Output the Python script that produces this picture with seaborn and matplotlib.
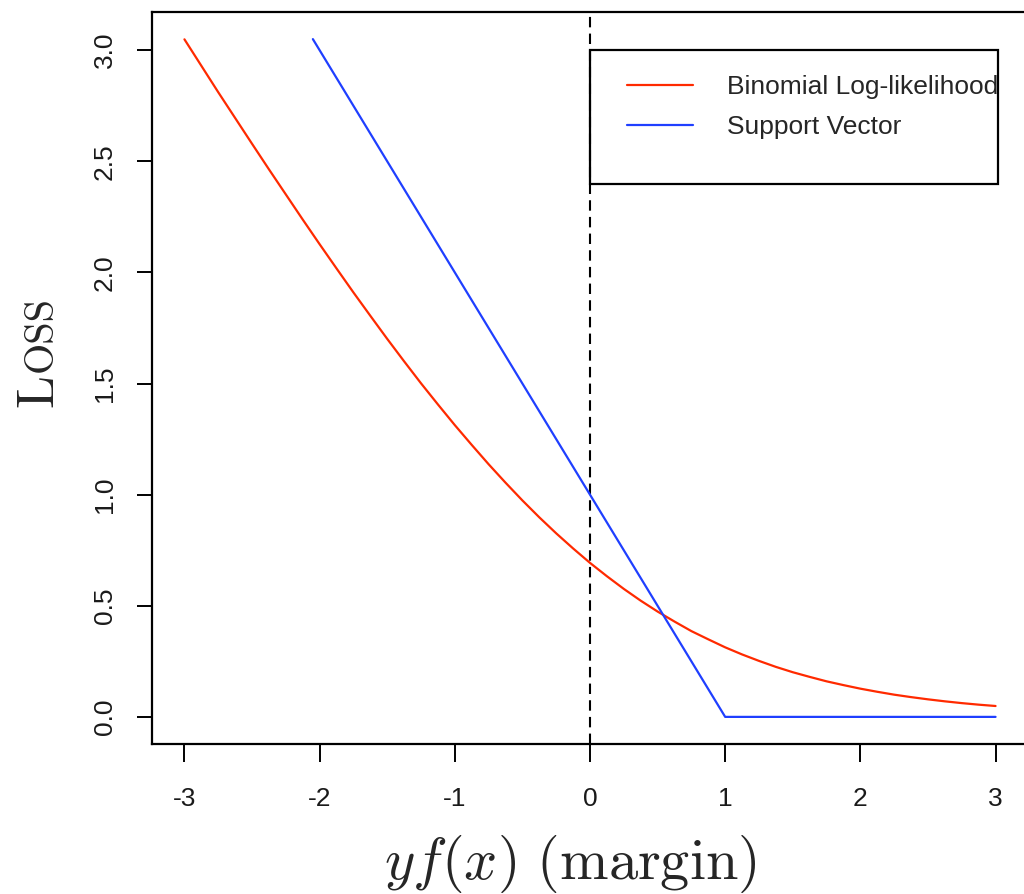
import numpy as np
import pandas as pd
import seaborn as sns
import matplotlib.pyplot as plt
from matplotlib.patches import Rectangle
from matplotlib.lines import Line2D

# values
margin_binomial = [-3.0, -2.875, -2.75, -2.625, -2.5, -2.375, -2.25, -2.125, -2.0, -1.875, -1.75, -1.625,
                   -1.5, -1.375, -1.25, -1.125, -1.0, -0.875, -0.75, -0.625, -0.5, -0.375, -0.25, -0.125,
                   0.0, 0.125, 0.25, 0.375, 0.5, 0.625, 0.75, 0.875, 1.0, 1.125, 1.25, 1.375,
                   1.5, 1.625, 1.75, 1.875, 2.0, 2.125, 2.25, 2.375, 2.5, 2.625, 2.75, 2.875, 3.0]
loss_binomial = [3.049, 2.930, 2.811, 2.695, 2.579, 2.464, 2.351, 2.238, 2.127, 2.018, 1.910, 1.805,
                 1.701, 1.600, 1.501, 1.406, 1.313, 1.224, 1.137, 1.054, 0.974, 0.898, 0.826, 0.758,
                 0.693, 0.633, 0.576, 0.523, 0.474, 0.429, 0.386, 0.349, 0.313, 0.281, 0.252, 0.225,
                 0.201, 0.180, 0.160, 0.143, 0.127, 0.113, 0.100, 0.089, 0.079, 0.070, 0.062, 0.055, 0.049]
margin_svm = [-2.05, 1.0, 3.0]
loss_svm = [3.05, 0.0, 0.0]
series_names = ['Binomial Log-likelihood', 'Support Vector']
series_colors = ['#ff2a00', '#1f3fff']
x_ticks = [-3, -2, -1, 0, 1, 2, 3]
y_ticks = [0.0, 0.5, 1.0, 1.5, 2.0, 2.5, 3.0]

df = pd.concat([
    pd.DataFrame({'margin': margin_binomial, 'loss': loss_binomial, 'series': series_names[0]}),
    pd.DataFrame({'margin': margin_svm, 'loss': loss_svm, 'series': series_names[1]}),
], ignore_index=True)

sns.set_style('ticks')
plt.rcParams['font.family'] = ['Liberation Sans', 'DejaVu Sans']
plt.rcParams['axes.unicode_minus'] = False
plt.rcParams['mathtext.fontset'] = 'cm'

W, H = 1024, 894
fig = plt.figure(figsize=(W / 100, H / 100), dpi=100)
ax = fig.add_axes([152 / W, 1 - 744 / H, (1028 - 152) / W, (744 - 12) / H])

sns.lineplot(data=df, x='margin', y='loss', hue='series', palette=dict(zip(series_names, series_colors)),
             estimator=None, sort=False, linewidth=1.6, legend=False, ax=ax)
ax.axvline(0, color='black', linewidth=1.5, linestyle=(0, (5, 3)), zorder=1)

ax.set_xlim(-3.24, 3.24)
ax.set_ylim(-0.122, 3.172)
ax.set_xticks(x_ticks)
ax.set_yticks(y_ticks)
ax.set_xlabel('')
ax.set_ylabel('')
for s in ax.spines.values():
    s.set_linewidth(1.6)
    s.set_color('black')
ax.tick_params(axis='both', direction='out', width=1.4, color='black',
               labelsize=19, labelcolor='#1a1a1a')
ax.tick_params(axis='x', length=13, pad=18)
ax.tick_params(axis='y', length=10.5, pad=15, labelrotation=90)
for lab in ax.get_yticklabels():
    lab.set_va('center')

# legend box like base R
ax.add_patch(Rectangle((0, 2.398), 3.02, 0.602, fill=False, edgecolor='black',
                       linewidth=1.6, clip_on=False, zorder=5))
handles = [Line2D([], [], color=c, linewidth=1.6) for c in series_colors]
ax.legend(handles, series_names, loc='upper left', bbox_to_anchor=(627 / W, 1 - 75 / H),
          bbox_transform=fig.transFigure, frameon=False, borderpad=0, borderaxespad=0,
          handlelength=2.5, handletextpad=1.3, labelspacing=0.6, fontsize=19)

# axis labels
fig.text(570 / W, 1 - 879 / H, r'$yf(x)\ (\mathrm{margin})$', ha='center', va='baseline', fontsize=42)
fig.text(52 / W, 1 - 407 / H, 'L', family='cmr10', fontsize=38, rotation=90,
         rotation_mode='anchor', ha='left', va='baseline')
fig.text(52 / W, 1 - 372 / H, 'OSS', family='cmr10', fontsize=29, rotation=90,
         rotation_mode='anchor', ha='left', va='baseline')

fig.savefig('out.png', dpi=100)
